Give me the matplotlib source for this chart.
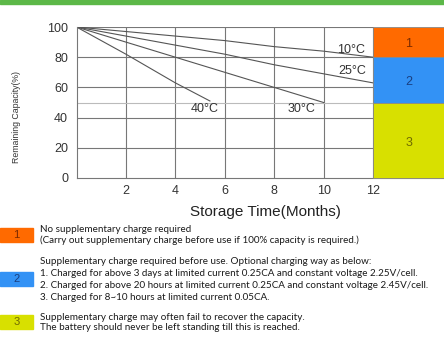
import matplotlib
matplotlib.use("Agg")
import matplotlib.pyplot as plt
from matplotlib.patches import Rectangle

# curves (months, remaining capacity %)
months_10 = [0, 2, 4, 6, 8, 10, 12]
cap_10 = [100, 97, 94, 91, 87, 84, 80]
months_25 = [0, 2, 4, 6, 8, 10, 12]
cap_25 = [100, 94, 88, 82, 75, 69, 63]
months_30 = [0, 2, 4, 6, 8, 10]
cap_30 = [100, 90, 80, 70, 60, 50]
months_40 = [0, 2, 4, 5.4]
cap_40 = [100, 82, 63, 51]

curve_labels = ["10°C", "25°C", "30°C", "40°C"]
label_pos = [(11.1, 85), (11.15, 71), (9.1, 46), (5.2, 46)]

zones = ["1", "2", "3"]
zone_low = [80, 50, 0]
zone_high = [100, 80, 50]
zone_colors = ["#ff6a00", "#3392f5", "#d8e000"]
zone_text_colors = ["#7a2a00", "#1a3f80", "#6f6a00"]

x_ticks = [2, 4, 6, 8, 10, 12]
y_ticks = [0, 20, 40, 60, 80, 100]

notes = [
    ["No supplementary charge required",
     "(Carry out supplementary charge before use if 100% capacity is required.)"],
    ["Supplementary charge required before use. Optional charging way as below:",
     "1. Charged for above 3 days at limited current 0.25CA and constant voltage 2.25V/cell.",
     "2. Charged for above 20 hours at limited current 0.25CA and constant voltage 2.45V/cell.",
     "3. Charged for 8~10 hours at limited current 0.05CA."],
    ["Supplementary charge may often fail to recover the capacity.",
     "The battery should never be left standing till this is reached."],
]

W, H = 444, 338
fig = plt.figure(figsize=(W / 100, H / 100), dpi=100)
plt.rcParams['font.family'] = ['Liberation Sans', 'DejaVu Sans']

# green bar at the top
fig.patches.append(Rectangle((0, 1 - 4 / H), 1, 4 / H, transform=fig.transFigure,
                             color="#5cb848", zorder=0))

x0, x12, y100, y0 = 76.5, 373, 27, 178
ppu = (x12 - x0) / 12
xmax = (W - x0) / ppu
ax = fig.add_axes([x0 / W, 1 - y0 / H, (W - x0) / W, (y0 - y100) / H])
ax.set_xlim(0, xmax)
ax.set_ylim(0, 100)
for s in ["top", "right"]:
    ax.spines[s].set_visible(False)
for s in ["left", "bottom"]:
    ax.spines[s].set_color("#777777")
    ax.spines[s].set_linewidth(0.8)

grid_c = "#777777"
for x in x_ticks:
    ax.plot([x, x], [0, 100], color=grid_c, lw=0.8, zorder=1)
for y in y_ticks[1:]:
    ax.plot([0, 12], [y, y], color=grid_c, lw=0.8, zorder=1)
ax.plot([0, 12], [50, 50], color="#bbbbbb", lw=0.8, zorder=1)

line_c = "#555555"
for mx, cy in [(months_10, cap_10), (months_25, cap_25), (months_30, cap_30), (months_40, cap_40)]:
    ax.plot(mx, cy, color=line_c, lw=0.8, zorder=2)
for lab, (lx, ly) in zip(curve_labels, label_pos):
    ax.text(lx, ly, lab, ha="center", va="center", fontsize=9, color="#333333", zorder=3)

for name, lo, hi, c, tc in zip(zones, zone_low, zone_high, zone_colors, zone_text_colors):
    ax.add_patch(Rectangle((12, lo), xmax - 12, hi - lo, facecolor=c, edgecolor="#888888",
                           lw=0.6, zorder=4, clip_on=False))
    ax.text((12 + xmax) / 2, (lo + hi) / 2 - 1.5, name, ha="center", va="center",
            fontsize=9, color=tc, zorder=5)

ax.set_xticks(x_ticks)
ax.set_yticks(y_ticks)
ax.tick_params(length=0, labelsize=9, colors="#333333", pad=5)
ax.tick_params(axis="y", pad=6)
ax.set_xlabel("Storage Time(Months)", fontsize=11, color="#222222")
ax.xaxis.set_label_coords((265 - x0) / (W - x0), -(205 - y0) / (y0 - y100))
fig.text(17 / W, 1 - 117 / H, "Remaining Capacity(%)", rotation=90, ha="center", va="center",
         fontsize=6.3, color="#333333")

# legend notes below the chart
box_tops = [228, 272, 315]
line_y = [[229, 240], [262, 274, 286, 297], [318, 328]]
for name, top, c, tc, lines, ys in zip(zones, box_tops, zone_colors, zone_text_colors, notes, line_y):
    fig.patches.append(Rectangle((0, 1 - (top + 14) / H), 33 / W, 14 / H,
                                 transform=fig.transFigure, color=c))
    fig.text(16.5 / W, 1 - (top + 7) / H, name, ha="center", va="center", fontsize=8, color=tc)
    for t, y in zip(lines, ys):
        fig.text(40 / W, 1 - y / H, t, ha="left", va="center", fontsize=7.1,
                 family=["Lato", "DejaVu Sans"], color="#1a1a1a")

fig.savefig("out.png", dpi=100)
